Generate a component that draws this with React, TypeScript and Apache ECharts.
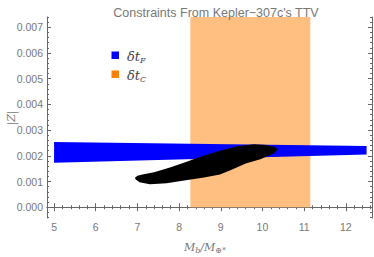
import React, { useEffect, useRef } from "react";
import * as echarts from "echarts";

const titleText = "Constraints From Kepler\u2212307c's TTV";
const xMajor = [5, 6, 7, 8, 9, 10, 11, 12];
const yMajor = [0, 0.001, 0.002, 0.003, 0.004, 0.005, 0.006, 0.007];

// Blue band (δt_F): linear strip
const bandX = [5, 12.5];
const bandTop = [0.00254, 0.00238];
const bandBottom = [0.00173, 0.00205];

// Orange region (δt_C)
const rectX = [8.27, 11.15];
const rectY = [0, 0.0074];

// Black allowed region (outline, clockwise)
const blobX = [6.94, 7.0, 7.15, 7.4, 7.8, 8.2, 8.6, 9.0, 9.4, 9.8, 10.1, 10.3, 10.37, 10.27, 9.95, 9.6, 9.22, 8.98, 8.6, 8.2, 7.7, 7.3, 7.05, 6.96];
const blobY = [0.00115, 0.00122, 0.00128, 0.00136, 0.00155, 0.00178, 0.00201, 0.00221, 0.00237, 0.00245, 0.00242, 0.00234, 0.00225, 0.00209, 0.00187, 0.0017, 0.00143, 0.00127, 0.00116, 0.00106, 0.00093, 0.00089, 0.00097, 0.00108];

const X_MIN = 4.83;
const X_MAX = 12.63;
const Y_MIN = -0.00042;
const Y_MAX = 0.0074;

function range(a: number, b: number, step: number): number[] {
  const out: number[] = [];
  const n = Math.round((b - a) / step);
  for (let i = 0; i <= n; i++) out.push(Math.round((a + i * step) * 1e7) / 1e7);
  return out;
}
const xMinor = range(4.8, 12.6, 0.2).filter((v) => v >= X_MIN && v <= X_MAX);
const yMinor = range(-0.0004, 0.0074, 0.0002).filter((v) => v >= Y_MIN && v <= Y_MAX);

const FRAME = "#666";
const LABEL = "#777";

function xAxisDef(pos: "top" | "bottom", major: boolean) {
  return {
    type: "value",
    min: X_MIN,
    max: X_MAX,
    position: pos,
    axisLine: { show: major, lineStyle: { color: FRAME, width: 1 } },
    axisTick: {
      show: true,
      inside: true,
      length: major ? 4 : 2,
      customValues: major ? xMajor : xMinor,
      lineStyle: { color: FRAME, width: 1 },
    },
    axisLabel:
      major && pos === "bottom"
        ? { show: true, customValues: xMajor, color: LABEL, fontSize: 10.5, fontFamily: "Liberation Sans", margin: 3 }
        : { show: false },
    splitLine: { show: false },
  };
}

function yAxisDef(pos: "left" | "right", major: boolean) {
  return {
    type: "value",
    min: Y_MIN,
    max: Y_MAX,
    position: pos,
    axisLine: { show: major, lineStyle: { color: FRAME, width: 1 } },
    axisTick: {
      show: true,
      inside: true,
      length: major ? 4 : 2,
      customValues: major ? yMajor : yMinor,
      lineStyle: { color: FRAME, width: 1 },
    },
    axisLabel:
      major && pos === "left"
        ? {
            show: true,
            customValues: yMajor,
            color: LABEL,
            fontSize: 10.5,
            fontFamily: "Liberation Sans",
            margin: 4,
            formatter: (v: number) => v.toFixed(3),
          }
        : { show: false },
    splitLine: { show: false },
  };
}

function polySeries(xs: number[], ys: number[], fill: string, z: number) {
  return {
    type: "custom",
    xAxisIndex: 0,
    yAxisIndex: 0,
    z,
    silent: true,
    data: [0],
    renderItem: (params: any, api: any) => {
      if (params.dataIndex !== 0) return null;
      const pts = xs.map((x, i) => api.coord([x, ys[i]]));
      return { type: "polygon", shape: { points: pts }, style: { fill } };
    },
  };
}

const bandXs = [bandX[0], bandX[1], bandX[1], bandX[0]];
const bandYs = [bandTop[0], bandTop[1], bandBottom[1], bandBottom[0]];
const rectXs = [rectX[0], rectX[1], rectX[1], rectX[0]];
const rectYs = [rectY[0], rectY[0], rectY[1], rectY[1]];

export default function App() {
  const ref = useRef<HTMLDivElement>(null);
  useEffect(() => {
    if (!ref.current) return;
    const chart = echarts.init(ref.current, null, { renderer: "svg" });
    const serif = "DejaVu Serif";
    chart.setOption({
      animation: false,
      backgroundColor: "#fff",
      title: {
        text: titleText,
        left: 211,
        textAlign: "center",
        top: 1,
        textStyle: { color: LABEL, fontSize: 12.5, fontWeight: "normal", fontFamily: "Liberation Sans" },
      },
      grid: { left: 47, right: 2, top: 17, bottom: 39 },
      xAxis: [xAxisDef("bottom", true), xAxisDef("bottom", false), xAxisDef("top", true), xAxisDef("top", false)],
      yAxis: [yAxisDef("left", true), yAxisDef("left", false), yAxisDef("right", true), yAxisDef("right", false)],
      series: [
        polySeries(rectXs, rectYs, "#ffbf80", 1),
        polySeries(bandXs, bandYs, "#0000ff", 2),
        polySeries(blobX, blobY, "#000000", 3),
      ],
      graphic: [
        { type: "rect", shape: { x: 111.5, y: 51.5, width: 7.5, height: 7.5 }, style: { fill: "#0000ff" } },
        { type: "rect", shape: { x: 111.5, y: 70.5, width: 7.5, height: 7.5 }, style: { fill: "#ff8000" } },
        {
          type: "text",
          x: 127,
          y: 56,
          style: {
            text: "{d|\u03b4t}{s|F}",
            verticalAlign: "middle",
            rich: {
              d: { fontFamily: serif, fontStyle: "italic", fontSize: 13, fill: "#444", lineHeight: 16, verticalAlign: "middle" },
              s: { fontFamily: serif, fontStyle: "italic", fontSize: 8, fill: "#444", lineHeight: 16, verticalAlign: "bottom" },
            },
          },
        },
        {
          type: "text",
          x: 127,
          y: 75,
          style: {
            text: "{d|\u03b4t}{s|C}",
            verticalAlign: "middle",
            rich: {
              d: { fontFamily: serif, fontStyle: "italic", fontSize: 13, fill: "#444", lineHeight: 16, verticalAlign: "middle" },
              s: { fontFamily: serif, fontStyle: "italic", fontSize: 8, fill: "#444", lineHeight: 16, verticalAlign: "bottom" },
            },
          },
        },
        {
          type: "text",
          x: 205,
          y: 247,
          style: {
            text: "{m|M}{s|b}{m|/M}{s|\u2295*}",
            align: "center",
            verticalAlign: "middle",
            rich: {
              m: { fontFamily: serif, fontStyle: "italic", fontSize: 11, fill: LABEL, lineHeight: 14, verticalAlign: "middle" },
              s: { fontFamily: serif, fontStyle: "italic", fontSize: 8, fill: LABEL, lineHeight: 14, verticalAlign: "bottom" },
            },
          },
        },
        {
          type: "text",
          x: 11,
          y: 118,
          rotation: Math.PI / 2,
          style: {
            text: "|Z|",
            align: "center",
            verticalAlign: "middle",
            fontFamily: serif,
            fontStyle: "italic",
            fontSize: 11,
            fill: LABEL,
          },
        },
      ],
    });
    return () => chart.dispose();
  }, []);
  return <div ref={ref} style={{ width: 374, height: 257, position: "absolute", left: 0, top: 0 }} />;
}
